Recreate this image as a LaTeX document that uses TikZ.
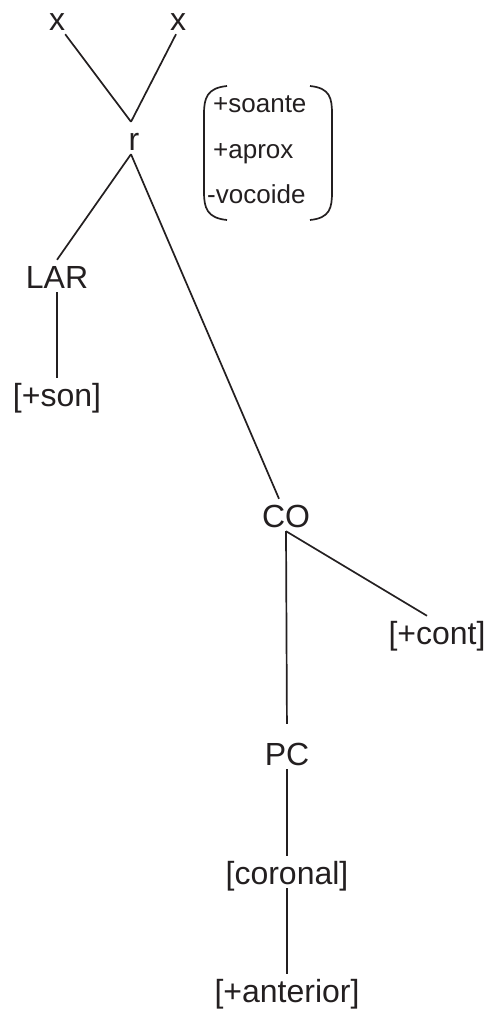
\documentclass[tikz,border=0pt]{standalone}
\usepackage{fontspec}
\setmainfont{Liberation Sans}
\usepackage{xcolor}
\usetikzlibrary{positioning,calc}
\definecolor{ink}{HTML}{231F20}

\begin{document}
\begin{tikzpicture}[x=1pt, y=-1pt,
        every node/.style={text=ink},
        seg/.style={draw=ink, line width=1.7pt},
        tier/.style={font=\fontsize{32}{38}\selectfont, anchor=base, inner xsep=0pt, inner ysep=4pt, text height=24pt, text depth=0pt},
        feat/.style={font=\fontsize{26}{30}\selectfont, anchor=base west, inner sep=0pt}
    ]
        \useasboundingbox (0,0) rectangle (487,1012);

        % skeleton and root
        \node[tier] (x1) at (57,30) {x};
        \node[tier] (x2) at (178,30) {x};
        \node[tier] (r) at (134,150) {r};

        % feature matrix of the root
        \node[feat] (soante) at (213,112) {+soante};
        \node[feat] (aprox) at (213,158) {+aprox};
        \node[feat] (vocoide) at (207,203) {-vocoide};
        \draw[seg] (227,86) .. controls (207,88) and (204,98) .. (204,114) -- (204,192) .. controls (204,208) and (207,218) .. (227,220);
        \draw[seg] (310,86) .. controls (330,88) and (332,98) .. (332,114) -- (332,192) .. controls (332,208) and (330,218) .. (310,220);

        % laryngeal
        \node[tier] (lar) at (57,288) {LAR};
        \node[tier] (son) at (57,406) {[+son]};

        % oral cavity
        \node[tier] (co) at (286,527) {CO};
        \node[tier] (cont) at (437,644) {[+cont]};
        \node[tier] (pc) at (287,765) {PC};
        \node[tier] (cor) at (287,884) {[coronal]};
        \node[tier] (ant) at (287,1002) {[+anterior]};

        \draw[seg] (x1.south east) -- ([xshift=-3pt]r.north);
        \draw[seg] ([xshift=-2pt]x2.south) -- ([xshift=-3pt]r.north);
        \draw[seg] ([xshift=-3pt]r.south) -- (lar.north);
        \draw[seg] ([xshift=-3pt]r.south) -- ([xshift=-7pt]co.north);
        \draw[seg] (lar) -- (son);
        \draw[seg] (co.south) -- ([xshift=-10pt]cont.north);
        \draw[seg, shorten >=13pt] (co.south) -- (pc.north);
        \draw[seg] (pc) -- (cor);
        \draw[seg] (cor) -- (ant);
    \end{tikzpicture}
\end{document}
